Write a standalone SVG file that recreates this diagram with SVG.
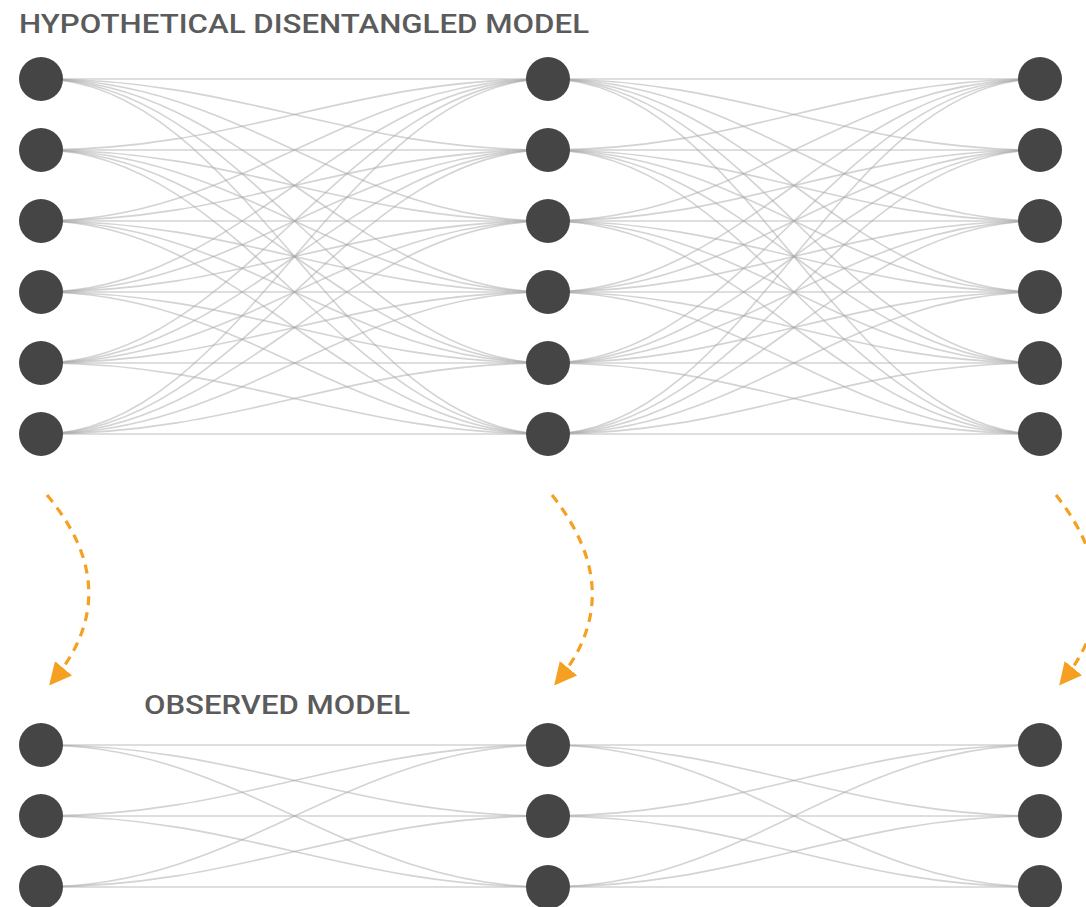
<svg xmlns="http://www.w3.org/2000/svg" width="1086" height="907" viewBox="0 0 1086 907">
<style>
.t{font-family:Roboto,"Liberation Sans",sans-serif;font-weight:500;font-size:25px;fill:#5b5b5b}
.e{fill:none;stroke:#a8a8a8;stroke-opacity:.5;stroke-width:1.6}
.n{fill:#454545}
.a{fill:none;stroke:#f5a020;stroke-width:3.2;stroke-dasharray:9 7}
</style>
<defs>
<marker id="ah" viewBox="0 0 10 10" refX="8" refY="5" markerWidth="7" markerHeight="7" markerUnits="strokeWidth" orient="auto"><path d="M0 0L10 5L0 10z" fill="#f5a020"/></marker>
</defs>
<rect width="1086" height="907" fill="#fff"/>
<text class="t" x="19" y="33" textLength="570" lengthAdjust="spacingAndGlyphs">HYPOTHETICAL DISENTANGLED MODEL</text>
<text class="t" x="144" y="714" textLength="266" lengthAdjust="spacingAndGlyphs">OBSERVED MODEL</text>
<g id="connectors">
<path class="e" d="M41 79C241 79 348 79 548 79"/><path class="e" d="M41 79C241 79 348 150 548 150"/><path class="e" d="M41 79C241 79 348 221 548 221"/><path class="e" d="M41 79C241 79 348 292 548 292"/><path class="e" d="M41 79C241 79 348 363 548 363"/><path class="e" d="M41 79C241 79 348 434 548 434"/>
<path class="e" d="M41 150C241 150 348 79 548 79"/><path class="e" d="M41 150C241 150 348 150 548 150"/><path class="e" d="M41 150C241 150 348 221 548 221"/><path class="e" d="M41 150C241 150 348 292 548 292"/><path class="e" d="M41 150C241 150 348 363 548 363"/><path class="e" d="M41 150C241 150 348 434 548 434"/>
<path class="e" d="M41 221C241 221 348 79 548 79"/><path class="e" d="M41 221C241 221 348 150 548 150"/><path class="e" d="M41 221C241 221 348 221 548 221"/><path class="e" d="M41 221C241 221 348 292 548 292"/><path class="e" d="M41 221C241 221 348 363 548 363"/><path class="e" d="M41 221C241 221 348 434 548 434"/>
<path class="e" d="M41 292C241 292 348 79 548 79"/><path class="e" d="M41 292C241 292 348 150 548 150"/><path class="e" d="M41 292C241 292 348 221 548 221"/><path class="e" d="M41 292C241 292 348 292 548 292"/><path class="e" d="M41 292C241 292 348 363 548 363"/><path class="e" d="M41 292C241 292 348 434 548 434"/>
<path class="e" d="M41 363C241 363 348 79 548 79"/><path class="e" d="M41 363C241 363 348 150 548 150"/><path class="e" d="M41 363C241 363 348 221 548 221"/><path class="e" d="M41 363C241 363 348 292 548 292"/><path class="e" d="M41 363C241 363 348 363 548 363"/><path class="e" d="M41 363C241 363 348 434 548 434"/>
<path class="e" d="M41 434C241 434 348 79 548 79"/><path class="e" d="M41 434C241 434 348 150 548 150"/><path class="e" d="M41 434C241 434 348 221 548 221"/><path class="e" d="M41 434C241 434 348 292 548 292"/><path class="e" d="M41 434C241 434 348 363 548 363"/><path class="e" d="M41 434C241 434 348 434 548 434"/>
<path class="e" d="M548 79C745 79 843 79 1040 79"/><path class="e" d="M548 79C745 79 843 150 1040 150"/><path class="e" d="M548 79C745 79 843 221 1040 221"/><path class="e" d="M548 79C745 79 843 292 1040 292"/><path class="e" d="M548 79C745 79 843 363 1040 363"/><path class="e" d="M548 79C745 79 843 434 1040 434"/>
<path class="e" d="M548 150C745 150 843 79 1040 79"/><path class="e" d="M548 150C745 150 843 150 1040 150"/><path class="e" d="M548 150C745 150 843 221 1040 221"/><path class="e" d="M548 150C745 150 843 292 1040 292"/><path class="e" d="M548 150C745 150 843 363 1040 363"/><path class="e" d="M548 150C745 150 843 434 1040 434"/>
<path class="e" d="M548 221C745 221 843 79 1040 79"/><path class="e" d="M548 221C745 221 843 150 1040 150"/><path class="e" d="M548 221C745 221 843 221 1040 221"/><path class="e" d="M548 221C745 221 843 292 1040 292"/><path class="e" d="M548 221C745 221 843 363 1040 363"/><path class="e" d="M548 221C745 221 843 434 1040 434"/>
<path class="e" d="M548 292C745 292 843 79 1040 79"/><path class="e" d="M548 292C745 292 843 150 1040 150"/><path class="e" d="M548 292C745 292 843 221 1040 221"/><path class="e" d="M548 292C745 292 843 292 1040 292"/><path class="e" d="M548 292C745 292 843 363 1040 363"/><path class="e" d="M548 292C745 292 843 434 1040 434"/>
<path class="e" d="M548 363C745 363 843 79 1040 79"/><path class="e" d="M548 363C745 363 843 150 1040 150"/><path class="e" d="M548 363C745 363 843 221 1040 221"/><path class="e" d="M548 363C745 363 843 292 1040 292"/><path class="e" d="M548 363C745 363 843 363 1040 363"/><path class="e" d="M548 363C745 363 843 434 1040 434"/>
<path class="e" d="M548 434C745 434 843 79 1040 79"/><path class="e" d="M548 434C745 434 843 150 1040 150"/><path class="e" d="M548 434C745 434 843 221 1040 221"/><path class="e" d="M548 434C745 434 843 292 1040 292"/><path class="e" d="M548 434C745 434 843 363 1040 363"/><path class="e" d="M548 434C745 434 843 434 1040 434"/>
<path class="e" d="M41 745C241 745 348 745 548 745"/><path class="e" d="M41 745C241 745 348 816 548 816"/><path class="e" d="M41 745C241 745 348 887 548 887"/>
<path class="e" d="M41 816C241 816 348 745 548 745"/><path class="e" d="M41 816C241 816 348 816 548 816"/><path class="e" d="M41 816C241 816 348 887 548 887"/>
<path class="e" d="M41 887C241 887 348 745 548 745"/><path class="e" d="M41 887C241 887 348 816 548 816"/><path class="e" d="M41 887C241 887 348 887 548 887"/>
<path class="e" d="M548 745C745 745 843 745 1040 745"/><path class="e" d="M548 745C745 745 843 816 1040 816"/><path class="e" d="M548 745C745 745 843 887 1040 887"/>
<path class="e" d="M548 816C745 816 843 745 1040 745"/><path class="e" d="M548 816C745 816 843 816 1040 816"/><path class="e" d="M548 816C745 816 843 887 1040 887"/>
<path class="e" d="M548 887C745 887 843 745 1040 745"/><path class="e" d="M548 887C745 887 843 816 1040 816"/><path class="e" d="M548 887C745 887 843 887 1040 887"/>
</g>
<g id="arrows">
<path class="a" marker-end="url(#ah)" d="M47 495Q128 592 52 682"/>
<path class="a" marker-end="url(#ah)" d="M552 495Q630 594 557 682"/>
<path class="a" marker-end="url(#ah)" d="M1056 495Q1134 594 1062 682"/>
</g>
<g id="top-left"><circle class="n" cx="41" cy="79" r="22"/><circle class="n" cx="41" cy="150" r="22"/><circle class="n" cx="41" cy="221" r="22"/><circle class="n" cx="41" cy="292" r="22"/><circle class="n" cx="41" cy="363" r="22"/><circle class="n" cx="41" cy="434" r="22"/></g>
<g id="top-middle"><circle class="n" cx="548" cy="79" r="22"/><circle class="n" cx="548" cy="150" r="22"/><circle class="n" cx="548" cy="221" r="22"/><circle class="n" cx="548" cy="292" r="22"/><circle class="n" cx="548" cy="363" r="22"/><circle class="n" cx="548" cy="434" r="22"/></g>
<g id="top-right"><circle class="n" cx="1040" cy="79" r="22"/><circle class="n" cx="1040" cy="150" r="22"/><circle class="n" cx="1040" cy="221" r="22"/><circle class="n" cx="1040" cy="292" r="22"/><circle class="n" cx="1040" cy="363" r="22"/><circle class="n" cx="1040" cy="434" r="22"/></g>
<g id="bottom-left"><circle class="n" cx="41" cy="745" r="22"/><circle class="n" cx="41" cy="816" r="22"/><circle class="n" cx="41" cy="887" r="22"/></g>
<g id="bottom-middle"><circle class="n" cx="548" cy="745" r="22"/><circle class="n" cx="548" cy="816" r="22"/><circle class="n" cx="548" cy="887" r="22"/></g>
<g id="bottom-right"><circle class="n" cx="1040" cy="745" r="22"/><circle class="n" cx="1040" cy="816" r="22"/><circle class="n" cx="1040" cy="887" r="22"/></g>
</svg>
